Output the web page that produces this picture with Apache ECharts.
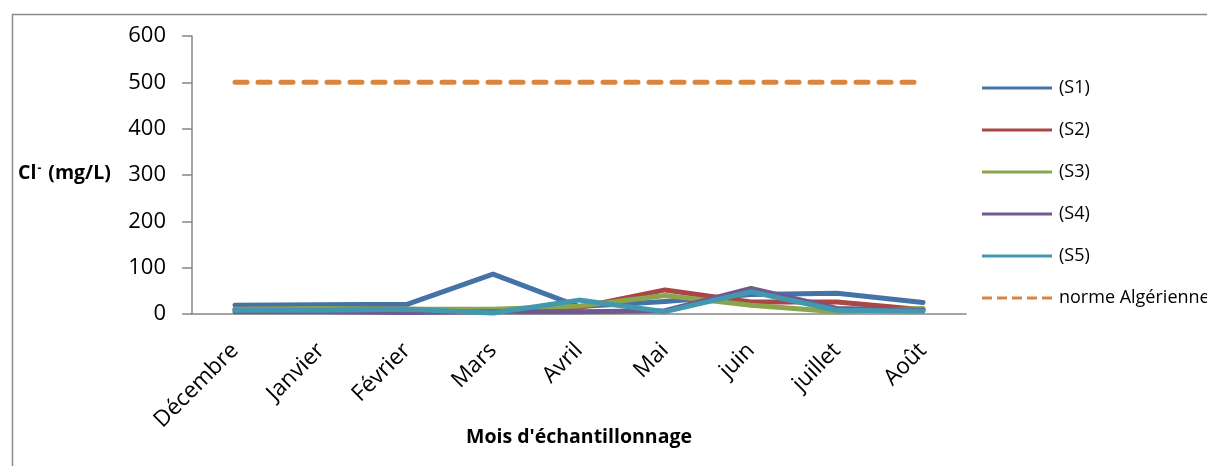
<!DOCTYPE html>
<html><head><meta charset="utf-8">
<script src="https://cdn.jsdelivr.net/npm/echarts@6/dist/echarts.min.js"></script>
<style>html,body{margin:0;padding:0;background:#fff;}#c{width:1207px;height:466px;}</style>
</head><body><div id="c"></div>
<script>
const months = ['Décembre','Janvier','Février','Mars','Avril','Mai','juin','juillet','Août'];
const s1 = [19, 20, 21, 86, 16, 27, 42, 45, 25];
const s2 = [10, 10, 10, 8, 14, 52, 26, 26, 9];
const s3 = [10, 12, 10, 10, 17, 40, 19, 5, 12];
const s4 = [5, 5, 3, 5, 5, 7, 55, 12, 8];
const s5 = [8, 8, 10, 2, 30, 5, 48, 8, 6];
const norme = [500, 500, 500, 500, 500, 500, 500, 500, 500];
const yTicks = [0, 100, 200, 300, 400, 500, 600];

const font = 'Open Sans';
const solidIcon = 'path://M0,0H70V3H0Z';
const dashIcon = 'path://M0,0H10V3H0Z M15,0H25V3H15Z M30,0H40V3H30Z M45,0H55V3H45Z M60,0H70V3H60Z';
const chart = echarts.init(document.getElementById('c'));
function ser(name, data, color){
  return {name, type:'line', data, symbol:'none', smooth:false,
    lineStyle:{color, width:5, cap:'round', join:'round'}, itemStyle:{color}};
}
chart.setOption({
  animation:false,
  backgroundColor:'#fff',
  grid:{left:192, right:241, top:36, bottom:152},
  xAxis:{type:'category', data:months, boundaryGap:true,
    axisLine:{lineStyle:{color:'#868686', width:1.5}},
    axisTick:{length:8, lineStyle:{color:'#868686', width:1.5}},
    axisLabel:{rotate:45, fontFamily:font, fontSize:22.5, color:'#000', margin:33, interval:0},
    name:"Mois d'échantillonnage", nameLocation:'middle', nameGap:113, nameMoveOverlap:false,
    nameTextStyle:{fontFamily:font, fontSize:19.5, fontWeight:'bold', color:'#000'}},
  yAxis:{type:'value', min:yTicks[0], max:yTicks[yTicks.length-1], interval:100,
    axisLine:{show:true, lineStyle:{color:'#868686', width:1.5}},
    axisTick:{show:true, length:10, lineStyle:{color:'#868686', width:1.5}},
    splitLine:{show:false},
    axisLabel:{fontFamily:font, fontSize:22, color:'#000', margin:26}},
  legend:{orient:'vertical', left:977, top:74, itemWidth:70, itemHeight:3, itemGap:24,
    textStyle:{fontFamily:font, fontSize:18, color:'#000', padding:[0,0,0,2]},
    data:[
      {name:'(S1)', icon:solidIcon},
      {name:'(S2)', icon:solidIcon},
      {name:'(S3)', icon:solidIcon},
      {name:'(S4)', icon:solidIcon},
      {name:'(S5)', icon:solidIcon},
      {name:'norme Algérienne', icon:dashIcon}
    ]},
  graphic:[
    {type:'rect', left:10, top:12, shape:{width:1210, height:470}, style:{fill:'none', stroke:'#8a8a8a', lineWidth:1.5}, silent:true, z:-1},
    {type:'text', left:18, top:163, style:{text:'{b|Cl}{s|-}{b| (mg/L)}', rich:{
      b:{fontFamily:font, fontSize:19.5, fontWeight:'bold', fill:'#000'},
      s:{fontFamily:font, fontSize:12, fontWeight:'bold', fill:'#000', verticalAlign:'top', padding:[0,2,8,1]}
    }}}
  ],
  series:[
    ser('(S1)', s1, '#4572A7'),
    ser('(S2)', s2, '#AA4643'),
    ser('(S3)', s3, '#89A54E'),
    ser('(S4)', s4, '#71588F'),
    ser('(S5)', s5, '#4198AF'),
    {name:'norme Algérienne', type:'line', data:norme, symbol:'none',
      lineStyle:{color:'#DB843D', width:5, type:[12,11], cap:'round'}, itemStyle:{color:'#DB843D'}}
  ]
});
</script></body></html>
